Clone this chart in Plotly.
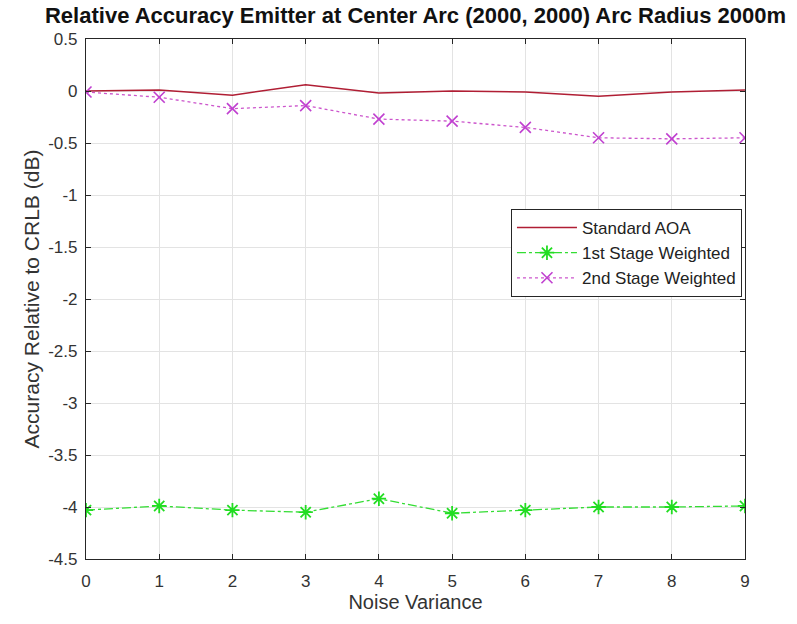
import plotly.graph_objects as go

# Noise variance steps
noise_variance = [0, 1, 2, 3, 4, 5, 6, 7, 8, 9]

# Accuracy relative to CRLB (dB) for each estimator
standard_aoa = [0.0, 0.01, -0.04, 0.06, -0.02, 0.0, -0.01, -0.05, -0.01, 0.01]
stage1_weighted = [-4.03, -3.99, -4.03, -4.05, -3.92, -4.06, -4.03, -4.0, -4.0, -3.99]
stage2_weighted = [-0.01, -0.06, -0.17, -0.14, -0.27, -0.29, -0.35, -0.45, -0.46, -0.45]

y_ticks = [0.5, 0, -0.5, -1, -1.5, -2, -2.5, -3, -3.5, -4, -4.5]
y_tick_text = ["0.5", "0", "-0.5", "-1", "-1.5", "-2", "-2.5", "-3", "-3.5", "-4", "-4.5"]

FONT = "Liberation Sans, Arial, sans-serif"

fig = go.Figure()

fig.add_trace(go.Scatter(
    x=noise_variance, y=standard_aoa, mode="lines", name="Standard AOA",
    line=dict(color="#b01e34", width=1.5),
))
fig.add_trace(go.Scatter(
    x=noise_variance, y=stage1_weighted, mode="lines+markers", name="1st Stage Weighted",
    line=dict(color="#33dd33", width=1.3, dash="dashdot"),
    marker=dict(symbol="asterisk-open", size=12, color="#22dd22",
                line=dict(color="#22dd22", width=1.8)),
))
fig.add_trace(go.Scatter(
    x=noise_variance, y=stage2_weighted, mode="lines+markers", name="2nd Stage Weighted",
    line=dict(color="#cc55cc", width=1.3, dash="dot"),
    marker=dict(symbol="x-thin-open", size=11, color="#c040d0",
                line=dict(color="#c040d0", width=1.6)),
))

axis_common = dict(
    showgrid=True, gridcolor="#e3e3e3", gridwidth=1,
    showline=True, linecolor="#262626", linewidth=1.2, mirror="allticks",
    ticks="inside", ticklen=5, tickcolor="#262626", tickwidth=1,
    zeroline=False,
    tickfont=dict(family=FONT, size=17, color="#333333"),
)

fig.update_layout(
    width=797, height=624,
    margin=dict(l=86, r=52, t=39, b=65),
    paper_bgcolor="white", plot_bgcolor="white",
    title=dict(
        text="<b>Relative Accuracy Emitter at Center Arc (2000, 2000) Arc Radius 2000m</b>",
        font=dict(family=FONT, size=22, color="#111111"),
        x=0.5, xref="paper", xanchor="center",
        y=1 - 15 / 624, yref="container", yanchor="middle",
    ),
    xaxis=dict(
        range=[0, 9], tickvals=noise_variance, ticklabelstandoff=6,
        title=dict(text="Noise Variance", standoff=4,
                   font=dict(family=FONT, size=20, color="#333333")),
        **axis_common,
    ),
    yaxis=dict(
        range=[-4.5, 0.5], tickvals=y_ticks, ticktext=y_tick_text,
        ticklabelstandoff=4,
        title=dict(text="Accuracy Relative to CRLB (dB)", standoff=2,
                   font=dict(family=FONT, size=21, color="#333333")),
        **axis_common,
    ),
    legend=dict(
        x=0.9954, y=0.673, xanchor="right", yanchor="top",
        bgcolor="white", bordercolor="#262626", borderwidth=1,
        font=dict(family=FONT, size=17, color="#222222"),
        itemwidth=60, tracegroupgap=0,
    ),
    showlegend=True,
)

fig.write_html("out.html")
